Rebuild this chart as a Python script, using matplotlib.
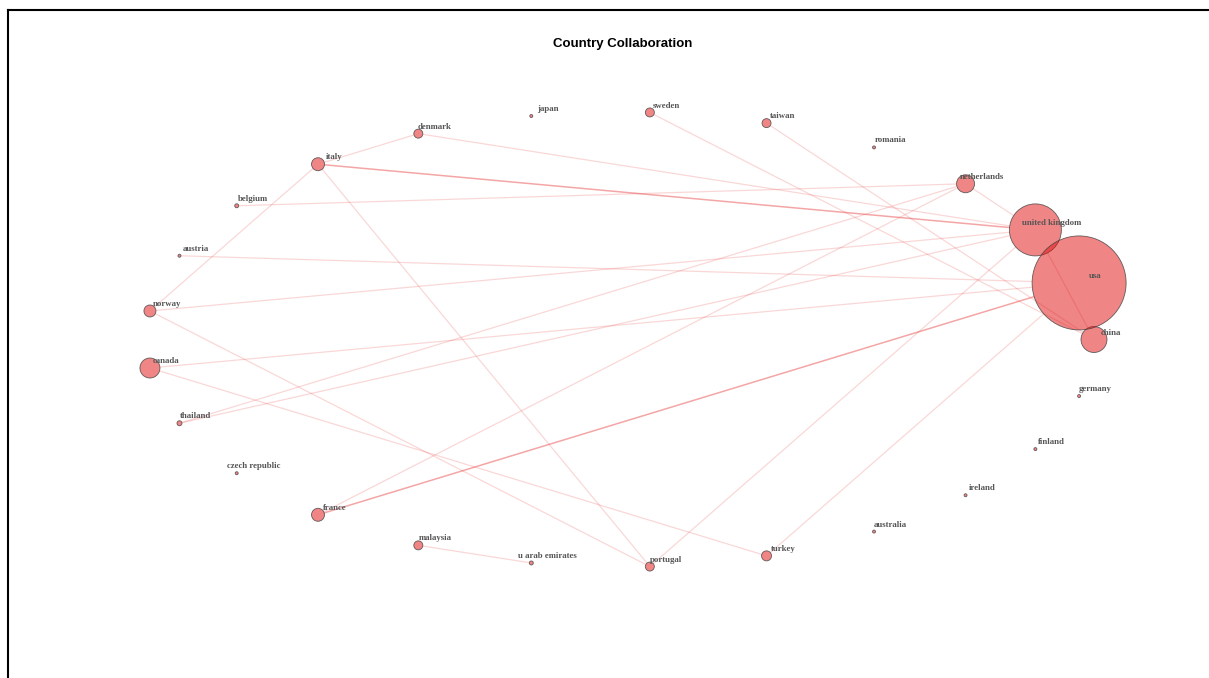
import numpy as np
import matplotlib
matplotlib.use("Agg")
import matplotlib.pyplot as plt
from matplotlib.lines import Line2D

# nodes in circle-layout order (clockwise from the right-most point)
countries = ["china", "germany", "finland", "ireland", "australia", "turkey",
             "portugal", "u arab emirates", "malaysia", "france", "czech republic",
             "thailand", "canada", "norway", "austria", "belgium", "italy",
             "denmark", "japan", "sweden", "taiwan", "romania", "netherlands",
             "united kingdom", "usa"]
# node radius (px)
node_radius = [13, 1.5, 1.5, 1.5, 1.5, 5, 4.5, 2, 4.5, 6.5, 1.5,
               2.5, 10, 6, 1.5, 2, 6.5, 4.5, 1.5, 4.5, 4.5, 1.5, 9,
               26, 47]

# collaboration links (country a, country b, weight)
edge_from = ["italy", "italy", "italy", "italy", "denmark", "belgium", "austria",
             "norway", "norway", "canada", "canada", "thailand", "thailand",
             "france", "france", "malaysia", "portugal", "turkey", "sweden",
             "taiwan", "netherlands", "united kingdom", "united kingdom", "usa"]
edge_to = ["denmark", "norway", "portugal", "united kingdom", "united kingdom",
           "netherlands", "usa", "united kingdom", "portugal", "usa", "turkey",
           "netherlands", "united kingdom", "netherlands", "usa",
           "u arab emirates", "united kingdom", "usa", "china", "china",
           "united kingdom", "usa", "china", "china"]
edge_w = [1, 1, 1, 2, 1, 1, 1, 1, 1, 1, 1, 1, 1, 1, 2, 1, 1, 1, 1, 1, 1, 3, 1, 2]

W, H = 1209, 678
fig = plt.figure(figsize=(W / 100, H / 100), dpi=100)
ax = fig.add_axes([0, 0, 1, 1])
ax.axis("off")

# circle layout, stretched into the ellipse of the plotting area
n = len(countries)
theta = 2 * np.pi * np.arange(n) / n
xs = np.cos(theta)
ys = -np.sin(theta)
cx, cy, rx, ry = 620.1, 339.5, 473.9, 227.5
ax.set_xlim(-cx / rx, (W - cx) / rx)
ax.set_ylim((cy - H) / ry, cy / ry)

idx = {c: i for i, c in enumerate(countries)}
pos_px = ax.transData.transform(np.column_stack([xs, ys]))

# edges, clipped at the node boundary
for a, b, w in zip(edge_from, edge_to, edge_w):
    i, j = idx[a], idx[b]
    p, q = pos_px[i], pos_px[j]
    d = q - p
    L = np.hypot(*d)
    if L <= node_radius[i] + node_radius[j]:
        continue  # overlapping nodes, the link is hidden
    u = d / L
    p2 = p + u * node_radius[i]
    q2 = q - u * node_radius[j]
    seg = ax.transData.inverted().transform(np.array([p2, q2]))
    ax.plot(seg[:, 0], seg[:, 1], color="#E83A3A",
            alpha={1: 0.2, 2: 0.45, 3: 0.6}[w], lw=0.7 + 0.2 * w,
            solid_capstyle="butt", zorder=1)

# nodes
sizes = [(2 * r * 0.72) ** 2 for r in node_radius]
ax.scatter(xs, ys, s=sizes, facecolor=(0.88, 0.05, 0.05, 0.5),
           edgecolor=(0.25, 0.25, 0.25, 0.8), linewidth=0.6, zorder=2)

# labels
for c, x, y in zip(countries, xs, ys):
    ax.annotate(c, (x, y), xytext=(11.9, 5.0), textcoords="offset points",
                ha="center", va="center", fontsize=6.3, fontweight="bold",
                family="Liberation Serif", color="#555555", zorder=3)

fig.text(622.5 / W, 1 - 42 / H, "Country Collaboration", ha="center",
         va="center_baseline", fontsize=9.5, fontweight="bold",
         family="Liberation Sans")

# frame remnants of the original export
fig.add_artist(Line2D([8 / W, 1], [1 - 10 / H, 1 - 10 / H], color="black",
                      lw=1.5, transform=fig.transFigure))
fig.add_artist(Line2D([8 / W, 8 / W], [0, 1 - 10 / H], color="black",
                      lw=1.5, transform=fig.transFigure))

fig.savefig("out.png", dpi=100)
